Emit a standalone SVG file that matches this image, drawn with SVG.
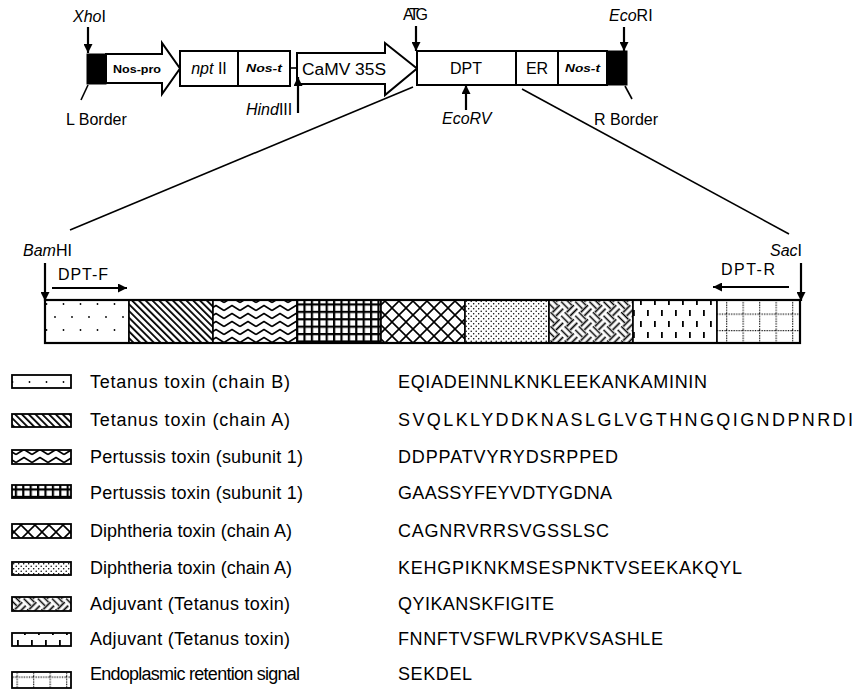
<svg xmlns="http://www.w3.org/2000/svg" width="856" height="692" viewBox="0 0 856 692">
<style>
text{font-family:"Liberation Sans",Arial,sans-serif;fill:#000}
.lbl{font-size:16px}
.it{font-style:italic}
.sm{font-size:11px;font-weight:bold}
.box{stroke:#000;stroke-width:2;fill:#fff}
.blk{fill:#000;stroke:#000;stroke-width:1}
.ln{stroke:#000;stroke-width:1.6;fill:none}
.arr{stroke:#000;stroke-width:2.2;fill:none;marker-end:url(#ah)}
.seg{stroke:#000;stroke-width:1.6}
.sw{stroke:#000;stroke-width:1.8}
.leg{font-size:18px}
.seq{font-size:18px}
</style>
<defs>
<marker id="ah" viewBox="0 0 10 10" refX="10" refY="5" markerWidth="9" markerHeight="9" markerUnits="userSpaceOnUse" orient="auto"><path d="M0,0 L10,5 L0,10 z" fill="#000"/></marker>
<pattern id="p1" width="17" height="26" patternUnits="userSpaceOnUse"><rect width="17" height="26" fill="#fff"/><circle cx="4" cy="5" r="0.9"/><circle cx="12.5" cy="18" r="0.9"/></pattern>
<pattern id="p2" width="4.8" height="5" patternUnits="userSpaceOnUse" patternTransform="rotate(-45)"><rect width="4.8" height="5" fill="#fff"/><rect width="1.8" height="5" fill="#000"/></pattern>
<pattern id="p3" width="16" height="8" patternUnits="userSpaceOnUse"><rect width="16" height="8" fill="#fff"/><path d="M0,6.5 L8,1.5 L16,6.5" stroke="#000" stroke-width="1.5" fill="none" stroke-linejoin="round"/></pattern>
<pattern id="p4" width="7.4" height="7.4" patternUnits="userSpaceOnUse"><rect width="7.4" height="7.4" fill="#000"/><rect x="2.2" y="2.2" width="5.2" height="5.2" fill="#fff"/></pattern>
<pattern id="p5" width="14" height="14" patternUnits="userSpaceOnUse"><rect width="14" height="14" fill="#fff"/><path d="M0,0 L14,14 M14,0 L0,14" stroke="#000" stroke-width="1.6"/></pattern>
<pattern id="p6" width="5" height="5" patternUnits="userSpaceOnUse"><rect width="5" height="5" fill="#fff"/><circle cx="1.2" cy="1.2" r="0.75"/><circle cx="3.7" cy="3.7" r="0.75"/></pattern>
<pattern id="p7" width="20" height="20" patternUnits="userSpaceOnUse" patternTransform="rotate(45)"><rect width="20" height="20" fill="#fff"/><path d="M0,1.5 H10 M0,6.5 H10 M11.5,0 V10 M16.5,0 V10 M1.5,10 V20 M6.5,10 V20 M10,11.5 H20 M10,16.5 H20" stroke="#000" stroke-width="1.7"/></pattern>
<pattern id="p8" width="14" height="22" patternUnits="userSpaceOnUse"><rect width="14" height="22" fill="#fff"/><rect x="3" y="2" width="1.8" height="6" fill="#000"/><rect x="10" y="13" width="1.8" height="6" fill="#000"/></pattern>
<pattern id="p9" width="16.5" height="16.5" patternUnits="userSpaceOnUse"><rect width="16.5" height="16.5" fill="#fff"/><path d="M0,0.6 H16.5 M0.6,0 V16.5" stroke="#000" stroke-width="1.3" stroke-dasharray="1.2,1.3"/></pattern>
</defs>

<g id="construct">
<g id="LBorderBox"><rect class="blk" x="87" y="54" width="19" height="30"/></g>
<g id="NosPro"><polygon class="box" points="106,54 162,54 162,43 180,68.5 162,94 162,83 106,83"/><text class="sm" x="113" y="73" textLength="48" lengthAdjust="spacingAndGlyphs">Nos-pro</text></g>
<g id="nptII"><rect class="box" x="180" y="51" width="58" height="35"/><text class="lbl" x="209" y="74" text-anchor="middle" font-size="14"><tspan class="it">npt</tspan> II</text></g>
<g id="NosT1"><rect class="box" x="238" y="51" width="52" height="35"/><text class="sm it" x="246" y="72" textLength="36" lengthAdjust="spacingAndGlyphs">Nos-t</text></g>
<g id="CaMV35S"><polygon class="box" points="297,53 385,53 385,43 417,68.5 385,95 385,84 297,84"/><text class="lbl" x="302" y="75" textLength="84" lengthAdjust="spacingAndGlyphs">CaMV 35S</text></g>
<g id="DPT"><rect class="box" x="417" y="51" width="99" height="34"/><text class="lbl" x="466" y="74" text-anchor="middle">DPT</text></g>
<g id="ER"><rect class="box" x="516" y="51" width="42" height="34"/><text class="lbl" x="537" y="74" text-anchor="middle">ER</text></g>
<g id="NosT2"><rect class="box" x="558" y="51" width="49" height="34"/><text class="sm it" x="565" y="72" textLength="35" lengthAdjust="spacingAndGlyphs">Nos-t</text></g>
<g id="RBorderBox"><rect class="blk" x="607" y="51" width="20" height="34"/></g>
</g>

<g id="labels">
<text class="lbl" x="73" y="22" font-size="15"><tspan class="it">Xho</tspan>I</text>
<text class="lbl" x="403" y="20" textLength="25">ATG</text>
<text class="lbl" x="609" y="21" font-size="15"><tspan class="it">Eco</tspan>RI</text>
<text class="lbl" x="66" y="125">L Border</text>
<text class="lbl" x="246" y="115" font-size="15"><tspan class="it">Hind</tspan>III</text>
<text class="lbl it" x="442" y="124" font-size="15">EcoRV</text>
<text class="lbl" x="594" y="125">R Border</text>
<text class="lbl" x="23" y="256"><tspan class="it">Bam</tspan>HI</text>
<text class="lbl" x="58" y="280" font-size="14" textLength="50">DPT-F</text>
<text class="lbl" x="770" y="256"><tspan class="it">Sac</tspan>I</text>
<text class="lbl" x="721" y="275" font-size="14" textLength="54">DPT-R</text>
</g>

<g id="connectors">
<line class="ln" x1="290" y1="68" x2="297" y2="68"/>
<line class="ln" x1="88" y1="85" x2="81" y2="100"/>
<line class="ln" x1="625" y1="86" x2="632" y2="99"/>
<line class="ln" x1="413" y1="87" x2="70" y2="230"/>
<line class="ln" x1="522" y1="89" x2="789" y2="234"/>
<line class="arr" x1="88" y1="27" x2="88" y2="53"/>
<line class="arr" x1="416" y1="26" x2="416" y2="51"/>
<line class="arr" x1="624" y1="27" x2="624" y2="51"/>
<line class="arr" x1="298" y1="113" x2="298" y2="77"/>
<line class="arr" x1="466" y1="110" x2="466" y2="85"/>
<line class="arr" x1="45" y1="263" x2="45" y2="301"/>
<line class="arr" x1="801" y1="263" x2="801" y2="301"/>
<line class="arr" x1="52" y1="288" x2="127" y2="288"/>
<line class="arr" x1="789" y1="287" x2="713" y2="287"/>
</g>

<g id="bar">
<rect class="seg" x="45" y="300" width="84" height="43" fill="url(#p1)"/>
<rect class="seg" x="129" y="300" width="84" height="43" fill="url(#p2)"/>
<rect class="seg" x="213" y="300" width="84" height="43" fill="url(#p3)"/>
<rect class="seg" x="297" y="300" width="84" height="43" fill="url(#p4)"/>
<rect class="seg" x="381" y="300" width="84" height="43" fill="url(#p5)"/>
<rect class="seg" x="465" y="300" width="84" height="43" fill="url(#p6)"/>
<rect class="seg" x="549" y="300" width="84" height="43" fill="url(#p7)"/>
<rect class="seg" x="633" y="300" width="84" height="43" fill="url(#p8)"/>
<rect class="seg" x="717" y="300" width="83" height="43" fill="url(#p9)"/>
<rect x="45" y="300" width="755" height="43" fill="none" stroke="#000" stroke-width="2.2"/>
</g>

<g id="legend">
<g id="leg1"><rect class="sw" x="12" y="375" width="59" height="13" fill="url(#p1)"/><text class="leg" x="90" y="388" textLength="200">Tetanus toxin (chain B)</text><text class="seq" x="398" y="388" textLength="309">EQIADEINNLKNKLEEKANKAMININ</text></g>
<g id="leg2"><rect class="sw" x="12" y="414" width="59" height="13" fill="url(#p2)"/><text class="leg" x="90" y="426" textLength="200">Tetanus toxin (chain A)</text><text class="seq" x="398" y="426" textLength="455">SVQLKLYDDKNASLGLVGTHNGQIGNDPNRDI</text></g>
<g id="leg3"><rect class="sw" x="12" y="450" width="59" height="14" fill="url(#p3)"/><text class="leg" x="90" y="463" textLength="213">Pertussis toxin (subunit 1)</text><text class="seq" x="398" y="463" textLength="220">DDPPATVYRYDSRPPED</text></g>
<g id="leg4"><rect class="sw" x="12" y="485" width="59" height="13" fill="url(#p4)"/><text class="leg" x="90" y="499" textLength="213">Pertussis toxin (subunit 1)</text><text class="seq" x="398" y="499" textLength="214">GAASSYFEYVDTYGDNA</text></g>
<g id="leg5"><rect class="sw" x="12" y="524" width="59" height="14" fill="url(#p5)"/><text class="leg" x="90" y="537" textLength="202">Diphtheria toxin (chain A)</text><text class="seq" x="398" y="537" textLength="211">CAGNRVRRSVGSSLSC</text></g>
<g id="leg6"><rect class="sw" x="12" y="562" width="59" height="13" fill="url(#p6)"/><text class="leg" x="90" y="574" textLength="202">Diphtheria toxin (chain A)</text><text class="seq" x="398" y="574" textLength="344">KEHGPIKNKMSESPNKTVSEEKAKQYL</text></g>
<g id="leg7"><rect class="sw" x="12" y="597" width="59" height="14" fill="url(#p7)"/><text class="leg" x="90" y="610" textLength="200">Adjuvant (Tetanus toxin)</text><text class="seq" x="398" y="610" textLength="156">QYIKANSKFIGITE</text></g>
<g id="leg8"><rect class="sw" x="12" y="633" width="59" height="13" fill="url(#p8)"/><text class="leg" x="90" y="645" textLength="200">Adjuvant (Tetanus toxin)</text><text class="seq" x="398" y="645" textLength="265">FNNFTVSFWLRVPKVSASHLE</text></g>
<g id="leg9"><rect class="sw" x="12" y="672" width="59" height="16" fill="url(#p9)"/><text class="leg" x="90" y="680" textLength="210">Endoplasmic retention signal</text><text class="seq" x="398" y="680" textLength="74">SEKDEL</text></g>
</g>
</svg>
